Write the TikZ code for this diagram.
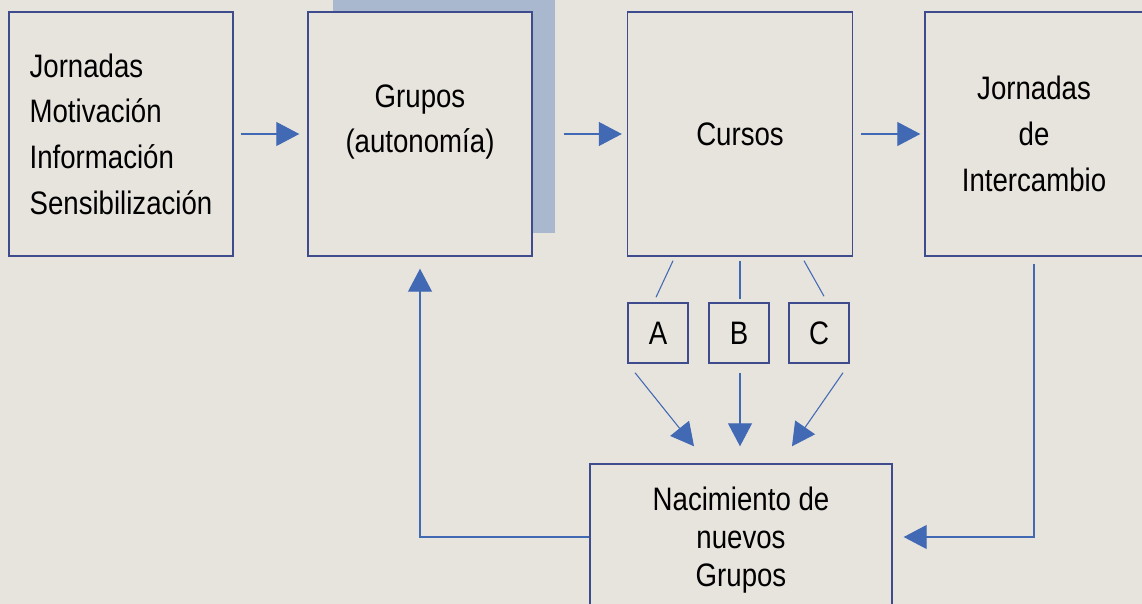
\documentclass[tikz,border=0pt]{standalone}
\usepackage{fontspec}
\setmainfont{Liberation Sans}[FakeStretch=0.85]
\usetikzlibrary{arrows.meta}
\definecolor{paper}{HTML}{E7E3DD}
\definecolor{boxline}{HTML}{3E4C8E}
\definecolor{arrowblue}{HTML}{4169B4}
\definecolor{band}{HTML}{A9B7CF}

\begin{document}
\begin{tikzpicture}[x=0.02cm, y=-0.02cm,
    stage/.style ={rectangle, draw=boxline, line width=0.85pt, fill=paper, inner sep=0pt,
      font=\fontsize{18.5}{26}\selectfont},
    course/.style ={rectangle, draw=boxline, line width=0.85pt, fill=paper, inner sep=0pt,
      minimum size=1.2cm, font=\fontsize{18.5}{20}\selectfont},
    caption/.style ={align=center, inner sep=0pt, font=\fontsize{18.5}{26}\selectfont},
    flow/.style ={draw=arrowblue, line width=0.6pt, -{Triangle[length=0.46cm, width=0.48cm]}},
    link/.style ={draw=arrowblue, line width=0.6pt}]
   \useasboundingbox[fill=paper] (0,0) rectangle (1142,604);
   \fill[band] (333,0) rectangle (555,233);

   \node[stage, minimum width=4.48cm, minimum height=4.88cm, align=left] (jornadas) at (121,134)
     {Jornadas\\Motivación\\Información\\Sensibilización};
   \node[stage, minimum width=4.48cm, minimum height=4.88cm] (grupos) at (420,134) {};
   \node[caption] (autonomia) at (420,122) {Grupos\\(autonomía)};
   \node[stage, minimum width=4.5cm, minimum height=4.88cm] (cursos) at (740,134) {Cursos};
   \node[stage, minimum width=4.36cm, minimum height=4.88cm, align=center] (intercambio) at (1034,134)
     {Jornadas\\de\\Intercambio};
   \node[course] (A) at (658,333) {A};
   \node[course] (B) at (739,333) {B};
   \node[course] (C) at (819,333) {C};
   \node[stage, minimum width=6.04cm, minimum height=3.04cm, align=center,
     font=\fontsize{18.5}{21.5}\selectfont] (nacimiento) at (741,540) {Nacimiento de\\nuevos\\Grupos};

   \draw[flow, shorten <=0.14cm, shorten >=0.16cm] (jornadas) -- (grupos);
   \draw[flow, shorten <=0.62cm, shorten >=0.1cm] (grupos) -- (cursos);
   \draw[flow, shorten <=0.16cm, shorten >=0.08cm] (cursos) -- (intercambio);
   \draw[link] ([xshift=-1.34cm, yshift=-0.08cm]cursos.south) -- ([xshift=-0.04cm, yshift=0.1cm]A.north);
   \draw[link] ([yshift=-0.08cm]cursos.south) -- ([xshift=0.02cm, yshift=0.06cm]B.north);
   \draw[link] ([xshift=1.28cm, yshift=-0.08cm]cursos.south) -- ([xshift=0.1cm, yshift=0.12cm]C.north);
   \draw[flow] ([xshift=-0.46cm, yshift=-0.18cm]A.south) -- ([xshift=-0.94cm, yshift=0.34cm]nacimiento.north);
   \draw[flow] ([xshift=0.02cm, yshift=-0.18cm]B.south) -- ([xshift=-0.02cm, yshift=0.34cm]nacimiento.north);
   \draw[flow] ([xshift=0.48cm, yshift=-0.18cm]C.south) -- ([xshift=1.02cm, yshift=0.34cm]nacimiento.north);
   \draw[flow, shorten >=0.24cm] ([yshift=0.06cm]nacimiento.west) -| (grupos.south);
   \draw[flow, shorten <=0.14cm, shorten >=0.22cm] (intercambio.south) |- ([yshift=0.06cm]nacimiento.east);
\end{tikzpicture}
\end{document}
